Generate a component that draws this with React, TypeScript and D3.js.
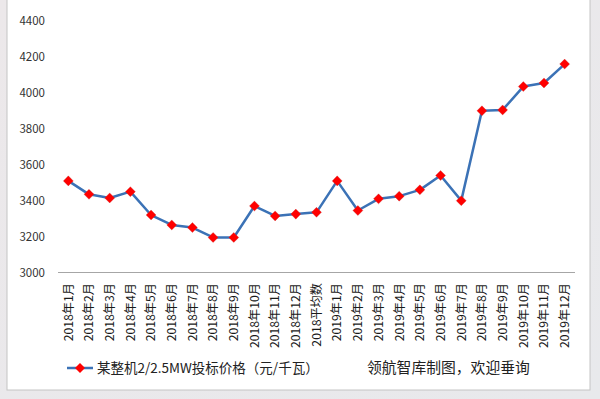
import React from "react";
import * as d3 from "d3";

const categories = [
  "2018年1月", "2018年2月", "2018年3月", "2018年4月", "2018年5月", "2018年6月",
  "2018年7月", "2018年8月", "2018年9月", "2018年10月", "2018年11月", "2018年12月",
  "2018平均数",
  "2019年1月", "2019年2月", "2019年3月", "2019年4月", "2019年5月", "2019年6月",
  "2019年7月", "2019年8月", "2019年9月", "2019年10月", "2019年11月", "2019年12月",
];
const prices = [
  3510, 3435, 3415, 3450, 3320, 3265, 3250, 3195, 3195, 3370, 3315, 3325,
  3335,
  3510, 3345, 3410, 3425, 3460, 3540, 3400, 3900, 3905, 4035, 4055, 4160,
];
const yTicks = [3000, 3200, 3400, 3600, 3800, 4000, 4200, 4400];
const seriesName = "某整机2/2.5MW投标价格（元/千瓦）";
const credit = "领航智库制图，欢迎垂询";

const W = 600;
const H = 399;
const FONT = "'Noto Sans CJK SC', 'Noto Sans', sans-serif";

export default function App() {
  const x = d3.scaleBand<string>().domain(categories).range([58, 575]);
  const y = d3.scaleLinear().domain([3000, 4400]).range([272.5, 21]);
  const cx = (c: string) => (x(c) as number) + x.bandwidth() / 2;
  const line = d3
    .line<number>()
    .x((_, i) => cx(categories[i]))
    .y((d) => y(d));
  const diamond = d3.symbol().type(d3.symbolDiamond2).size(64)();

  return (
    <svg
      width={W}
      height={H}
      style={{ position: "absolute", left: 0, top: 0, display: "block" }}
      fontFamily={FONT}
    >
      <defs>
        <linearGradient id="bg" x1="0" y1="0" x2="1" y2="1">
          <stop offset="0" stopColor="#ece8ea" />
          <stop offset="1" stopColor="#e8e9ec" />
        </linearGradient>
      </defs>
      <rect x={0} y={0} width={W} height={H} fill="url(#bg)" />
      <rect x={7} y={-1} width={583} height={391} fill="#ffffff" stroke="#c4c4c4" strokeWidth={1} />

      {/* y tick labels */}
      {yTicks.map((t) => (
        <text
          key={t}
          x={45}
          y={y(t)}
          dy="0.35em"
          textAnchor="end"
          fontSize={11.5}
          fill="#333"
        >
          {t}
        </text>
      ))}

      {/* x axis */}
      <line x1={58} x2={575} y1={272.5} y2={272.5} stroke="#a6a6a6" strokeWidth={1} />
      {categories.map((c) => (
        <text
          key={c}
          transform={`translate(${cx(c)},283) rotate(-90)`}
          textAnchor="end"
          dy="0.35em"
          fontSize={12.2}
          fill="#1a1a1a"
        >
          {c}
        </text>
      ))}

      {/* series */}
      <path d={line(prices) || ""} fill="none" stroke="#3b72b6" strokeWidth={2.5} strokeLinejoin="round" />
      {prices.map((v, i) => (
        <path
          key={i}
          d={diamond || ""}
          transform={`translate(${cx(categories[i])},${y(v)})`}
          fill="#ff0000"
          stroke="#c04040"
          strokeWidth={0.3}
        />
      ))}

      {/* legend */}
      <line x1={67} x2={93} y1={368} y2={368} stroke="#3b72b6" strokeWidth={2.5} />
      <path d={diamond || ""} transform="translate(80,368)" fill="#ff0000" />
      <text x={97} y={368} dy="0.35em" fontSize={13.5} fill="#222">
        {seriesName}
      </text>
      <text x={367} y={368} dy="0.35em" fontSize={14.8} fill="#222">
        {credit}
      </text>
    </svg>
  );
}
